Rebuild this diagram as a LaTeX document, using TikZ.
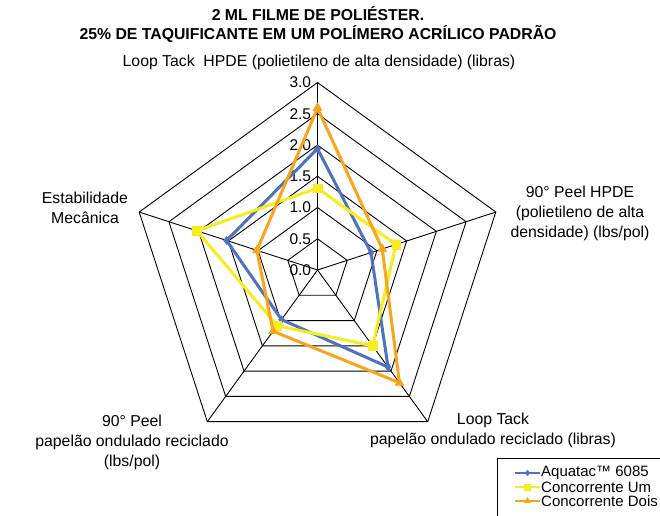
\documentclass[tikz,border=0pt]{standalone}
\usepackage{fontspec}
\setmainfont{Liberation Sans}
\usetikzlibrary{plotmarks}
\definecolor{serA}{HTML}{4F72BE}
\definecolor{serB}{HTML}{F7EC1E}
\definecolor{serC}{HTML}{F8A51B}
\begin{document}
\begin{tikzpicture}[x=1pt,y=1pt,
  gridline/.style={black,line width=0.9pt,line join=miter},
  lbl/.style={font=\fontsize{15.8}{20}\selectfont,align=center,inner sep=0pt},
  tick/.style={font=\fontsize{15.5}{18}\selectfont,anchor=east,inner sep=0pt},
  seriesA/.style={serA,line width=3pt,line join=round,mark=diamond*,mark size=4pt,mark options={solid,line width=0.4pt,fill=serA}},
  seriesB/.style={serB,line width=3pt,line join=round,mark=square*,mark size=4.2pt,mark options={solid,line width=0.4pt,fill=serB}},
  seriesC/.style={serC,line width=3pt,line join=round,mark=triangle*,mark size=5.2pt,mark options={solid,line width=0.4pt,fill=serC}},
  legA/.style={serA,line width=2pt},
  legB/.style={serB,line width=2pt},
  legC/.style={serC,line width=2pt},
  legmA/.style={serA,only marks,mark=diamond*,mark size=3pt,mark options={solid,line width=0.3pt,fill=serA}},
  legmB/.style={serB,only marks,mark=square*,mark size=3pt,mark options={solid,line width=0.3pt,fill=serB}},
  legmC/.style={serC,only marks,mark=triangle*,mark size=3.6pt,mark options={solid,line width=0.3pt,fill=serC}},
  legtext/.style={font=\fontsize{15}{18}\selectfont,anchor=west,inner sep=0pt}
]
\clip (0,0) rectangle (660,515);
\fill[white] (0,0) rectangle (660,515);
\coordinate (C) at (317.5,245);

% title
\node[font=\fontsize{15.8}{19}\selectfont\bfseries,align=center,inner sep=0pt] (title) at (318,490.5)
  {2 ML FILME DE POLIÉSTER.\\25\% DE TAQUIFICANTE EM UM POLÍMERO ACRÍLICO PADRÃO};

\begin{scope}[shift={(C)},x=62.5pt,y=62.5pt]
  % rings
  \foreach \r in {0.5,1,1.5,2,2.5,3}{
    \draw[gridline] (90:\r) -- (18:\r) -- (-54:\r) -- (-126:\r) -- (162:\r) -- cycle;
  }
  % spokes
  \foreach \a in {90,18,-54,-126,162}{
    \draw[gridline] (0,0) -- (\a:3);
  }
  % tick labels
  \foreach \v/\t in {0/0.0,0.5/0.5,1/1.0,1.5/1.5,2/2.0,2.5/2.5,3/3.0}{
    \node[tick] (t\v) at (-0.1,\v) {\t};
  }
  % series
  \draw[seriesA] plot coordinates {(90:1.94) (18:0.90) (-54:1.92) (-126:0.98) (162:1.53) (90:1.94)};
  \draw[seriesB] plot coordinates {(90:1.31) (18:1.32) (-54:1.50) (-126:1.10) (162:2.03) (90:1.31)};
  \draw[seriesC] plot coordinates {(90:2.59) (18:1.09) (-54:2.23) (-126:1.21) (162:1.02) (90:2.59)};
\end{scope}

% axis labels
\node[lbl] (ax1) at (319,453) {Loop Tack\ \ HPDE (polietileno de alta densidade) (libras)};
\node[lbl] (ax2) at (580,302) {90° Peel HPDE\\(polietileno de alta\\densidade) (lbs/pol)};
\node[lbl] (ax3) at (493,85) {Loop Tack\\papelão ondulado reciclado (libras)};
\node[lbl] (ax4) at (132,72.5) {90° Peel\\papelão ondulado reciclado\\(lbs/pol)};
\node[lbl] (ax5) at (85,307) {Estabilidade\\Mecânica};

% legend
\draw[black,line width=0.9pt] (497,57) rectangle (690,-20);
\coordinate (la) at (515,42); \coordinate (lb) at (540,42);
\coordinate (ma) at (515,28); \coordinate (mb) at (540,28);
\coordinate (na) at (515,14); \coordinate (nb) at (540,14);
\draw[legA] (la) -- (lb);
\draw[legB] (ma) -- (mb);
\draw[legC] (na) -- (nb);
\path[legmA] plot coordinates {(527.5,42)};
\path[legmB] plot coordinates {(527.5,28)};
\path[legmC] plot coordinates {(527.5,14)};
\node[legtext] (l1) at (541,42) {Aquatac™ 6085};
\node[legtext] (l2) at (541,28) {Concorrente Um};
\node[legtext] (l3) at (541,14) {Concorrente Dois};
\end{tikzpicture}
\end{document}
